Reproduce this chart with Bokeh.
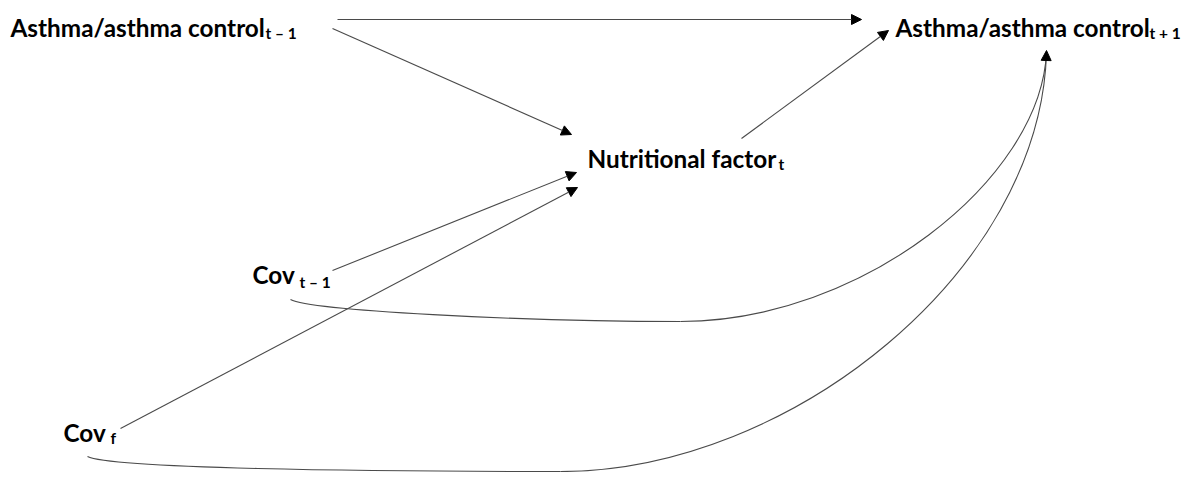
from bokeh.plotting import figure
from bokeh.models import ColumnDataSource, Range1d, Arrow, NormalHead
from bokeh.core.properties import value
from bokeh.embed import file_html
from bokeh.resources import INLINE

# ---- diagram data (reference pixel coordinates) ----
labels = ["Asthma/asthma control", "Asthma/asthma control", "Nutritional factor", "Cov", "Cov"]
label_x = [10, 895, 587, 252, 63]
label_y = [27, 27, 158, 274, 432]

subs = ["t \u2013 1", "t + 1", "t", "t \u2013 1", "f"]
sub_x = [265, 1149, 778, 299, 110]
sub_y = [32, 32, 163, 281, 437]

# straight arrows: start -> end
arr_x0 = [337, 332, 741, 332, 120]
arr_y0 = [19, 28, 138, 270, 428]
arr_x1 = [861, 571, 888, 576, 577]
arr_y1 = [19, 134, 30, 172, 187]

# curved paths (cubic bezier segments)
bz_x0 = [290, 680, 87, 560]
bz_y0 = [299, 321, 456, 471]
bz_cx0 = [310, 860, 110, 790]
bz_cy0 = [310, 321, 468, 471]
bz_cx1 = [520, 1040, 360, 1040]
bz_cy1 = [321, 180, 471, 270]
bz_x1 = [680, 1046, 560, 1046]
bz_y1 = [321, 52, 471, 52]

# arrowhead shared by the curves
cur_x0, cur_y0, cur_x1, cur_y1 = [1045.6], [62], [1046], [50]

W, H = 1184, 472
p = figure(width=W, height=H, output_backend="svg", toolbar_location=None,
           x_range=Range1d(0, W), y_range=Range1d(H, 0),
           x_axis_location=None, y_axis_location=None,
           min_border=0, min_border_left=0, min_border_right=0,
           min_border_top=0, min_border_bottom=0)
p.grid.visible = False
p.outline_line_color = None
p.background_fill_color = "white"
p.border_fill_color = "white"

line_col = "#4a4a4a"

bz = ColumnDataSource(dict(x0=bz_x0, y0=bz_y0, x1=bz_x1, y1=bz_y1,
                           cx0=bz_cx0, cy0=bz_cy0, cx1=bz_cx1, cy1=bz_cy1))
p.bezier(x0="x0", y0="y0", x1="x1", y1="y1", cx0="cx0", cy0="cy0",
         cx1="cx1", cy1="cy1", source=bz, line_color=line_col, line_width=1.1)

asrc = ColumnDataSource(dict(x0=arr_x0, y0=arr_y0, x1=arr_x1, y1=arr_y1))
p.add_layout(Arrow(end=NormalHead(size=10, fill_color="black", line_color="black", line_width=1),
                   x_start="x0", y_start="y0", x_end="x1", y_end="y1", source=asrc,
                   line_color=line_col, line_width=1.1))

csrc = ColumnDataSource(dict(x0=cur_x0, y0=cur_y0, x1=cur_x1, y1=cur_y1))
p.add_layout(Arrow(end=NormalHead(size=10, fill_color="black", line_color="black", line_width=1),
                   x_start="x0", y_start="y0", x_end="x1", y_end="y1", source=csrc,
                   line_alpha=0))

lsrc = ColumnDataSource(dict(x=label_x, y=label_y, t=labels))
p.text(x="x", y="y", text="t", source=lsrc, text_font=value("Lato"),
       text_font_style="bold", text_font_size="24.3px", text_color="black",
       text_baseline="alphabetic", text_align="left")

ssrc = ColumnDataSource(dict(x=sub_x, y=sub_y, t=subs))
p.text(x="x", y="y", text="t", source=ssrc, text_font=value("Lato"),
       text_font_style="bold", text_font_size="15.5px", text_color="black",
       text_baseline="alphabetic", text_align="left")

open("out.html", "w").write(file_html(p, INLINE))
